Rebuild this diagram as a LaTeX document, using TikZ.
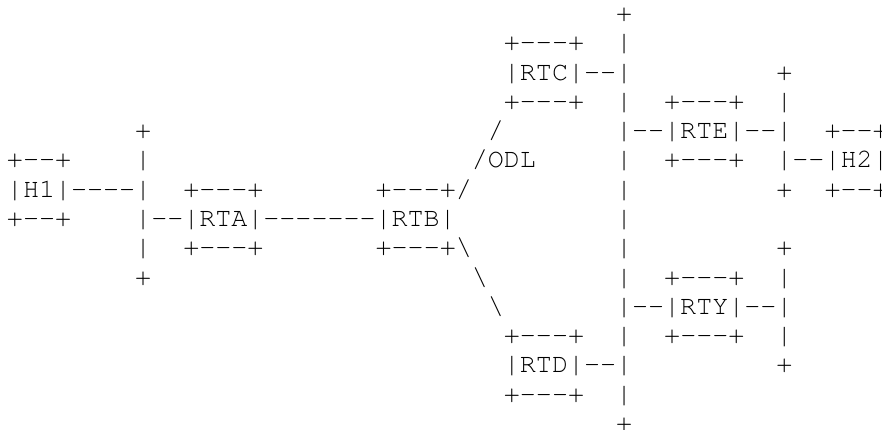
\documentclass[tikz,border=0pt]{standalone}
\usepackage{fontspec}
\newfontfamily\asciimono[Ligatures=TeXOff]{TeX Gyre Cursor}
\tikzset{asc/.style={anchor=base west, inner sep=0pt, outer sep=0pt,
  font=\asciimono\fontsize{26.71pt}{29.29pt}\selectfont, text=black}}
\newcommand\seg[4]{\node[asc] (#1) at ({6.985+16.03*#2},{-21.5-29.29*#3}) {#4};}
\begin{document}
\begin{tikzpicture}[x=1pt,y=1pt]
\fill[white] (0,0) rectangle (882,-430);
\useasboundingbox (0,0) rectangle (882,-430);
\clip (0,0) rectangle (882,-430);
% row 0
\seg{busCtop}{38}{0}{+}
% row 1
\seg{rtcT}{31}{1}{+---+}
\seg{busC1}{38}{1}{|}
% row 2
\seg{rtc}{31}{2}{|RTC|--|}
\seg{busEtop}{48}{2}{+}
% row 3
\seg{rtcB}{31}{3}{+---+}
\seg{busC3}{38}{3}{|}
\seg{rteT}{41}{3}{+---+}
\seg{busE3}{48}{3}{|}
% row 4
\seg{busAtop}{8}{4}{+}
\seg{sl4}{30}{4}{/}
\seg{rte}{38}{4}{|--|RTE|--|}
\seg{h2T}{51}{4}{+--+}
% row 5
\seg{h1T}{0}{5}{+--+}
\seg{busA5}{8}{5}{|}
\seg{odl}{29}{5}{/ODL}
\seg{busC5}{38}{5}{|}
\seg{rteB}{41}{5}{+---+}
\seg{h2}{48}{5}{|--|H2|}
% row 6
\seg{h1}{0}{6}{|H1|----|}
\seg{rtaT}{11}{6}{+---+}
\seg{rtbT}{23}{6}{+---+/}
\seg{busC6}{38}{6}{|}
\seg{busEbot}{48}{6}{+}
\seg{h2B}{51}{6}{+--+}
% row 7
\seg{h1B}{0}{7}{+--+}
\seg{rtab}{8}{7}{|--|RTA|-------|RTB|}
\seg{busC7}{38}{7}{|}
% row 8
\seg{busA8}{8}{8}{|}
\seg{rtaB}{11}{8}{+---+}
\seg{rtbB}{23}{8}{+---+\textbackslash}
\seg{busC8}{38}{8}{|}
\seg{busYtop}{48}{8}{+}
% row 9
\seg{busAbot}{8}{9}{+}
\seg{bs9}{29}{9}{\textbackslash}
\seg{busC9}{38}{9}{|}
\seg{rtyT}{41}{9}{+---+}
\seg{busY9}{48}{9}{|}
% row 10
\seg{bs10}{30}{10}{\textbackslash}
\seg{rty}{38}{10}{|--|RTY|--|}
% row 11
\seg{rtdT}{31}{11}{+---+}
\seg{busC11}{38}{11}{|}
\seg{rtyB}{41}{11}{+---+}
\seg{busY11}{48}{11}{|}
% row 12
\seg{rtd}{31}{12}{|RTD|--|}
\seg{busYbot}{48}{12}{+}
% row 13
\seg{rtdB}{31}{13}{+---+}
\seg{busC13}{38}{13}{|}
% row 14
\seg{busCbot}{38}{14}{+}
\end{tikzpicture}
\end{document}
